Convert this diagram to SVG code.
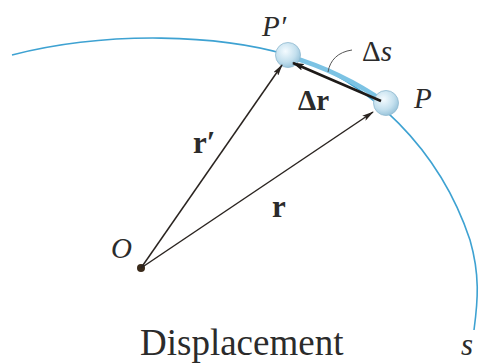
<svg xmlns="http://www.w3.org/2000/svg" width="483" height="364" viewBox="0 0 483 364">
<style>
.t{font-family:"Liberation Serif","DejaVu Serif",serif;fill:#2b2b2b}
.i{font-style:italic}
.b{font-weight:bold}
.vec{stroke:#2a2420;stroke-width:1.5;fill:none}
</style>
<defs>
<marker id="ah" viewBox="0 0 12 6" refX="11" refY="3" markerWidth="12" markerHeight="6" markerUnits="userSpaceOnUse" orient="auto">
<path d="M0,0 L12,3 L0,6 L2.5,3 Z" fill="#2a2420"/>
</marker>
<marker id="ah2" viewBox="0 0 12 7" refX="11" refY="3.5" markerWidth="12" markerHeight="7" markerUnits="userSpaceOnUse" orient="auto">
<path d="M0,0 L12,3.5 L0,7 L2.5,3.5 Z" fill="#1e1a18"/>
</marker>
<radialGradient id="ball" cx="0.4" cy="0.35" r="0.7">
<stop offset="0" stop-color="#f4fbff"/>
<stop offset="0.6" stop-color="#c4e0ee"/>
<stop offset="1" stop-color="#93c0d8"/>
</radialGradient>
</defs>
<g id="path-s">
<path d="M12,55 C110,30 220,35 288,55 C370,80 440,150 470,240 C480,275 478,300 474,330" fill="none" stroke="#3ea2d2" stroke-width="1.6"/>
<path d="M288,56 C322,66 356,82 386,103" fill="none" stroke="#7cc3e4" stroke-width="4.5"/>
</g>
<g id="node-P1">
<circle cx="288" cy="55" r="12.5" fill="url(#ball)" stroke="#8fb9cf" stroke-width="0.8"/>
</g>
<g id="node-P">
<circle cx="386" cy="103" r="12.5" fill="url(#ball)" stroke="#8fb9cf" stroke-width="0.8"/>
</g>
<g id="node-O">
<circle cx="141" cy="268" r="4" fill="#3a2a1a"/>
</g>
<g id="connectors">
<line class="vec" x1="141" y1="268" x2="282" y2="65" marker-end="url(#ah)"/>
<line class="vec" x1="141" y1="268" x2="373" y2="112" marker-end="url(#ah)"/>
<line x1="381" y1="101" x2="293" y2="63" stroke="#1e1a18" stroke-width="2.6" marker-end="url(#ah2)"/>
<path d="M352,50 C338,52 330,60 328,72" fill="none" stroke="#555" stroke-width="1"/>
</g>
<g id="labels">
<text class="t i" x="262" y="36" font-size="29">P′</text>
<text class="t i" x="414" y="108" font-size="29">P</text>
<text class="t" x="362" y="61" font-size="29">Δ<tspan class="i">s</tspan></text>
<text class="t b" x="298" y="110" font-size="29">Δr</text>
<text class="t b" x="193" y="153" font-size="31">r′</text>
<text class="t b" x="272" y="217" font-size="31">r</text>
<text class="t i" x="111" y="258" font-size="29">O</text>
<text class="t" x="140" y="355" font-size="37">Displacement</text>
<text class="t i" x="461" y="355" font-size="31">s</text>
</g>
</svg>
